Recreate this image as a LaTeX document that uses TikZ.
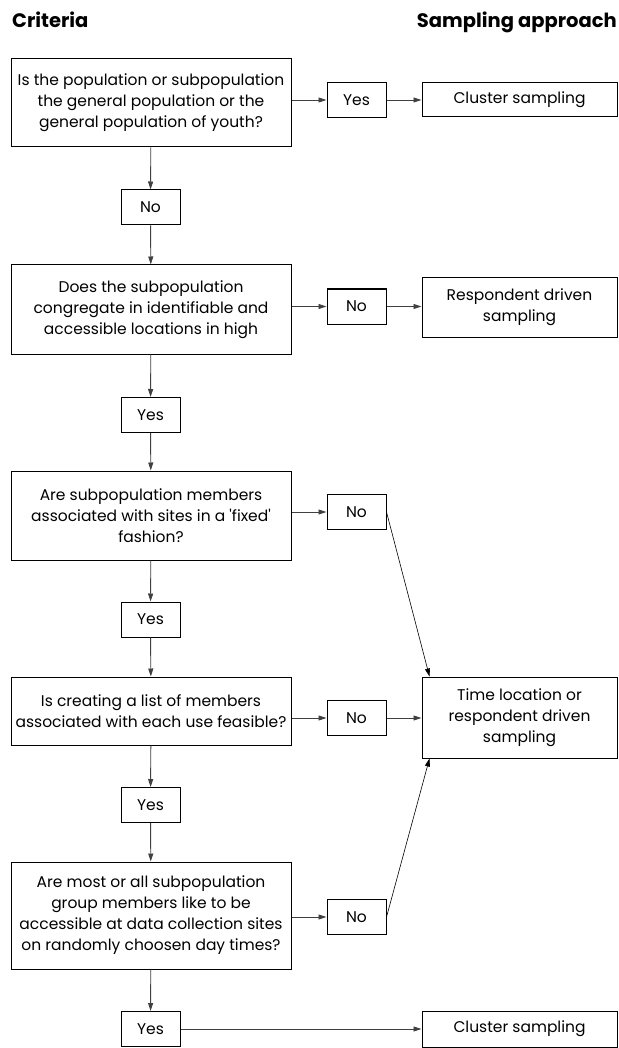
\documentclass[tikz,border=0pt]{standalone}
\usepackage{fontspec}
\setmainfont{Poppins}
\usetikzlibrary{arrows.meta}

\tikzset{
  domanda/.style={draw, line width=1pt, align=center, minimum width=280pt, inner sep=0pt,
    font=\fontsize{15.5}{21}\selectfont},
  risposta/.style={draw, line width=1pt, minimum width=59pt, minimum height=35pt, inner sep=0pt,
    font=\fontsize{15.5}{21}\selectfont},
  metodo/.style={draw, line width=1pt, align=center, minimum width=195pt, inner sep=0pt,
    font=\fontsize{15.5}{21}\selectfont},
  titolo/.style={font=\fontsize{19.5}{22}\selectfont\bfseries, inner sep=0pt},
  freccia/.style={->, line width=0.9pt, draw=black!75},
  obliqua/.style={->, line width=0.6pt}
}

\begin{document}
\begin{tikzpicture}[x=1pt, y=-1pt, >={Triangle[length=8pt,width=5pt]}]
    \useasboundingbox (0,0) rectangle (618,1048);

    % Titoli
    \node[titolo, anchor=base west] (tcrit) at (12,28) {Criteria};
    \node[titolo, anchor=base east] (tsamp) at (617,28) {Sampling approach};

    % Domande
    \node[domanda, minimum height=88pt] (q1) at (151,103)
      {Is the population or subpopulation\\the general population or the\\general population of youth?};
    \node[domanda, minimum height=89pt] (q2) at (151,309.5)
      {Does the subpopulation\\congregate in identifiable and\\accessible locations in high};
    \node[domanda, minimum height=89pt] (q3) at (151,515.5)
      {Are subpopulation members\\associated with sites in a \textquotesingle fixed\textquotesingle\\fashion?};
    \node[domanda, minimum height=68pt] (q4) at (151,711)
      {Is creating a list of members\\associated with each use feasible?};
    \node[domanda, minimum height=107pt] (q5) at (151,915.5)
      {Are most or all subpopulation\\group members like to be\\accessible at data collection sites\\on randomly choosen day times?};

    % Risposte
    \node[risposta] (y1) at (356.5,100) {Yes};
    \node[risposta] (n1) at (150.5,207.5) {No};
    \node[risposta] (n2) at (356.5,306.5) {No};
    \node[risposta] (y2) at (150.5,415) {Yes};
    \node[risposta] (n3) at (356.5,512) {No};
    \node[risposta] (y3) at (150.5,619.5) {Yes};
    \node[risposta] (n4) at (356.5,718) {No};
    \node[risposta] (y4) at (150.5,805) {Yes};
    \node[risposta] (n5) at (356.5,917) {No};
    \node[risposta] (y5) at (150.5,1029) {Yes};

    % Metodi
    \node[metodo, minimum height=34pt] (c1) at (519.5,100) {Cluster sampling};
    \node[metodo, minimum height=59pt] (r2) at (519.5,307.5) {Respondent driven\\sampling};
    \node[metodo, minimum height=81pt] (tl) at (519.5,717.5) {Time location or\\respondent driven\\sampling};
    \node[metodo, minimum height=36pt] (c2) at (519.5,1029) {Cluster sampling};

    % Frecce verticali
    \draw[freccia] (q1) -- (n1);
    \draw[freccia] (n1) -- (q2);
    \draw[freccia] (q2) -- (y2);
    \draw[freccia] (y2) -- (q3);
    \draw[freccia] (q3) -- (y3);
    \draw[freccia] (y3) -- (q4);
    \draw[freccia] (q4) -- (y4);
    \draw[freccia] (y4) -- (q5);
    \draw[freccia] (q5) -- (y5);

    % Frecce orizzontali
    \draw[freccia] (q1.east |- y1) -- (y1);
    \draw[freccia] (y1) -- (c1);
    \draw[freccia] (q2.east |- n2) -- (n2);
    \draw[freccia] (n2) -- (r2.west |- n2);
    \draw[freccia] (q3.east |- n3) -- (n3);
    \draw[freccia] (q4.east |- n4) -- (n4);
    \draw[freccia] (n4) -- (tl.west |- n4);
    \draw[freccia] (q5.east |- n5) -- (n5);
    \draw[freccia] (y5) -- (c2);

    % Oblique
    \draw[obliqua] (n3.east) -- ([xshift=8pt]tl.north west);
    \draw[obliqua] (n5.east) -- ([xshift=8pt]tl.south west);
\end{tikzpicture}
\end{document}
